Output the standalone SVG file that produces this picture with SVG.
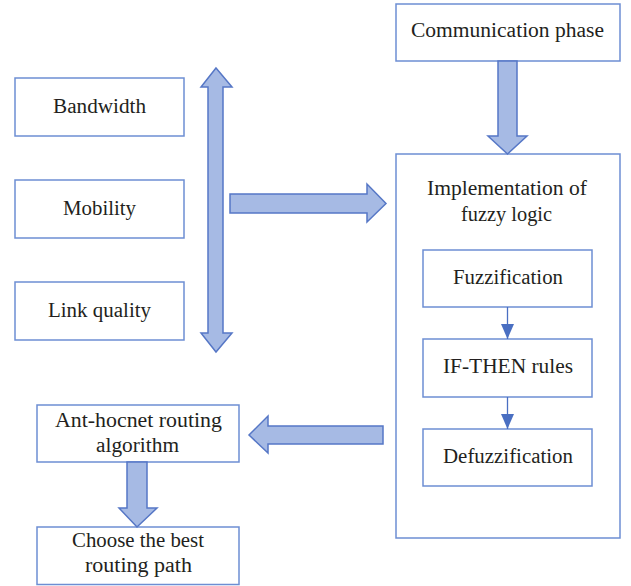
<svg xmlns="http://www.w3.org/2000/svg" width="631" height="586" viewBox="0 0 631 586">
<style>
.box{fill:#fff;stroke:#6D8ED3;stroke-width:1.5}
.big{fill:#A6BAE4;stroke:#5677C6;stroke-width:1.5;stroke-linejoin:miter}
.t{font-family:"Liberation Serif","Times New Roman",serif;font-size:20.5px;fill:#231F20;text-anchor:middle}
.thin{stroke:#4A6FC2;stroke-width:1.3;fill:none}
</style>
<defs>
<marker id="ah" markerWidth="15" markerHeight="13" refX="15" refY="6.5" orient="auto" markerUnits="userSpaceOnUse" viewBox="0 0 15 13">
<path d="M0,0 L15,6.5 L0,13 z" fill="#4A6FC2"/>
</marker>
</defs>
<rect width="631" height="586" fill="#fff"/>
<g id="bandwidth"><rect class="box" x="15" y="78" width="169" height="58"/><text class="t" x="99.5" y="113" textLength="93" lengthAdjust="spacingAndGlyphs">Bandwidth</text></g>
<g id="mobility"><rect class="box" x="15" y="180" width="169" height="58"/><text class="t" x="99.5" y="215" textLength="73" lengthAdjust="spacingAndGlyphs">Mobility</text></g>
<g id="linkquality"><rect class="box" x="15" y="282" width="169" height="58"/><text class="t" x="99.5" y="317" textLength="103" lengthAdjust="spacingAndGlyphs">Link quality</text></g>
<g id="communication"><rect class="box" x="396" y="4" width="224" height="57"/><text class="t" x="507.5" y="37" textLength="193" lengthAdjust="spacingAndGlyphs">Communication phase</text></g>
<g id="fuzzylogic"><rect class="box" x="396" y="154" width="224" height="384"/><text class="t" x="507" y="195" textLength="160" lengthAdjust="spacingAndGlyphs">Implementation of</text><text class="t" x="506.5" y="221" textLength="91" lengthAdjust="spacingAndGlyphs">fuzzy logic</text></g>
<g id="fuzzification"><rect class="box" x="423" y="250" width="169" height="57"/><text class="t" x="508" y="284" textLength="110" lengthAdjust="spacingAndGlyphs">Fuzzification</text></g>
<g id="ifthen"><rect class="box" x="423" y="339" width="169" height="58"/><text class="t" x="508" y="373" textLength="130" lengthAdjust="spacingAndGlyphs">IF-THEN rules</text></g>
<g id="defuzzification"><rect class="box" x="423" y="429" width="169" height="57"/><text class="t" x="508" y="463" textLength="130" lengthAdjust="spacingAndGlyphs">Defuzzification</text></g>
<g id="anthocnet"><rect class="box" x="37" y="405" width="202" height="57"/><text class="t" x="138.5" y="427" textLength="167" lengthAdjust="spacingAndGlyphs">Ant-hocnet routing</text><text class="t" x="137.5" y="452" textLength="83" lengthAdjust="spacingAndGlyphs">algorithm</text></g>
<g id="choose"><rect class="box" x="37" y="527" width="202" height="57.5"/><text class="t" x="138" y="547" textLength="132" lengthAdjust="spacingAndGlyphs">Choose the best</text><text class="t" x="138.5" y="572" textLength="107" lengthAdjust="spacingAndGlyphs">routing path</text></g>
<g id="connectors">
<path class="big" d="M216,68 L232,87 L223,87 L223,333 L232,333 L216,352 L201,333 L208,333 L208,87 L201,87 Z"/>
<path class="big" d="M230,194 L367,194 L367,184 L386,203.5 L367,222 L367,213 L230,213 Z"/>
<path class="big" d="M498,61 L517,61 L517,136 L527,136 L507.5,154 L488,136 L498,136 Z"/>
<path class="big" d="M383,426 L383,444 L268,444 L268,453 L249,435 L268,416 L268,426 Z"/>
<path class="big" d="M127,462 L147,462 L147,508 L157,508 L137,527 L119,508 L127,508 Z"/>
<line class="thin" x1="507.5" y1="307" x2="507.5" y2="339" marker-end="url(#ah)"/>
<line class="thin" x1="507.5" y1="397" x2="507.5" y2="429" marker-end="url(#ah)"/>
</g>
</svg>
